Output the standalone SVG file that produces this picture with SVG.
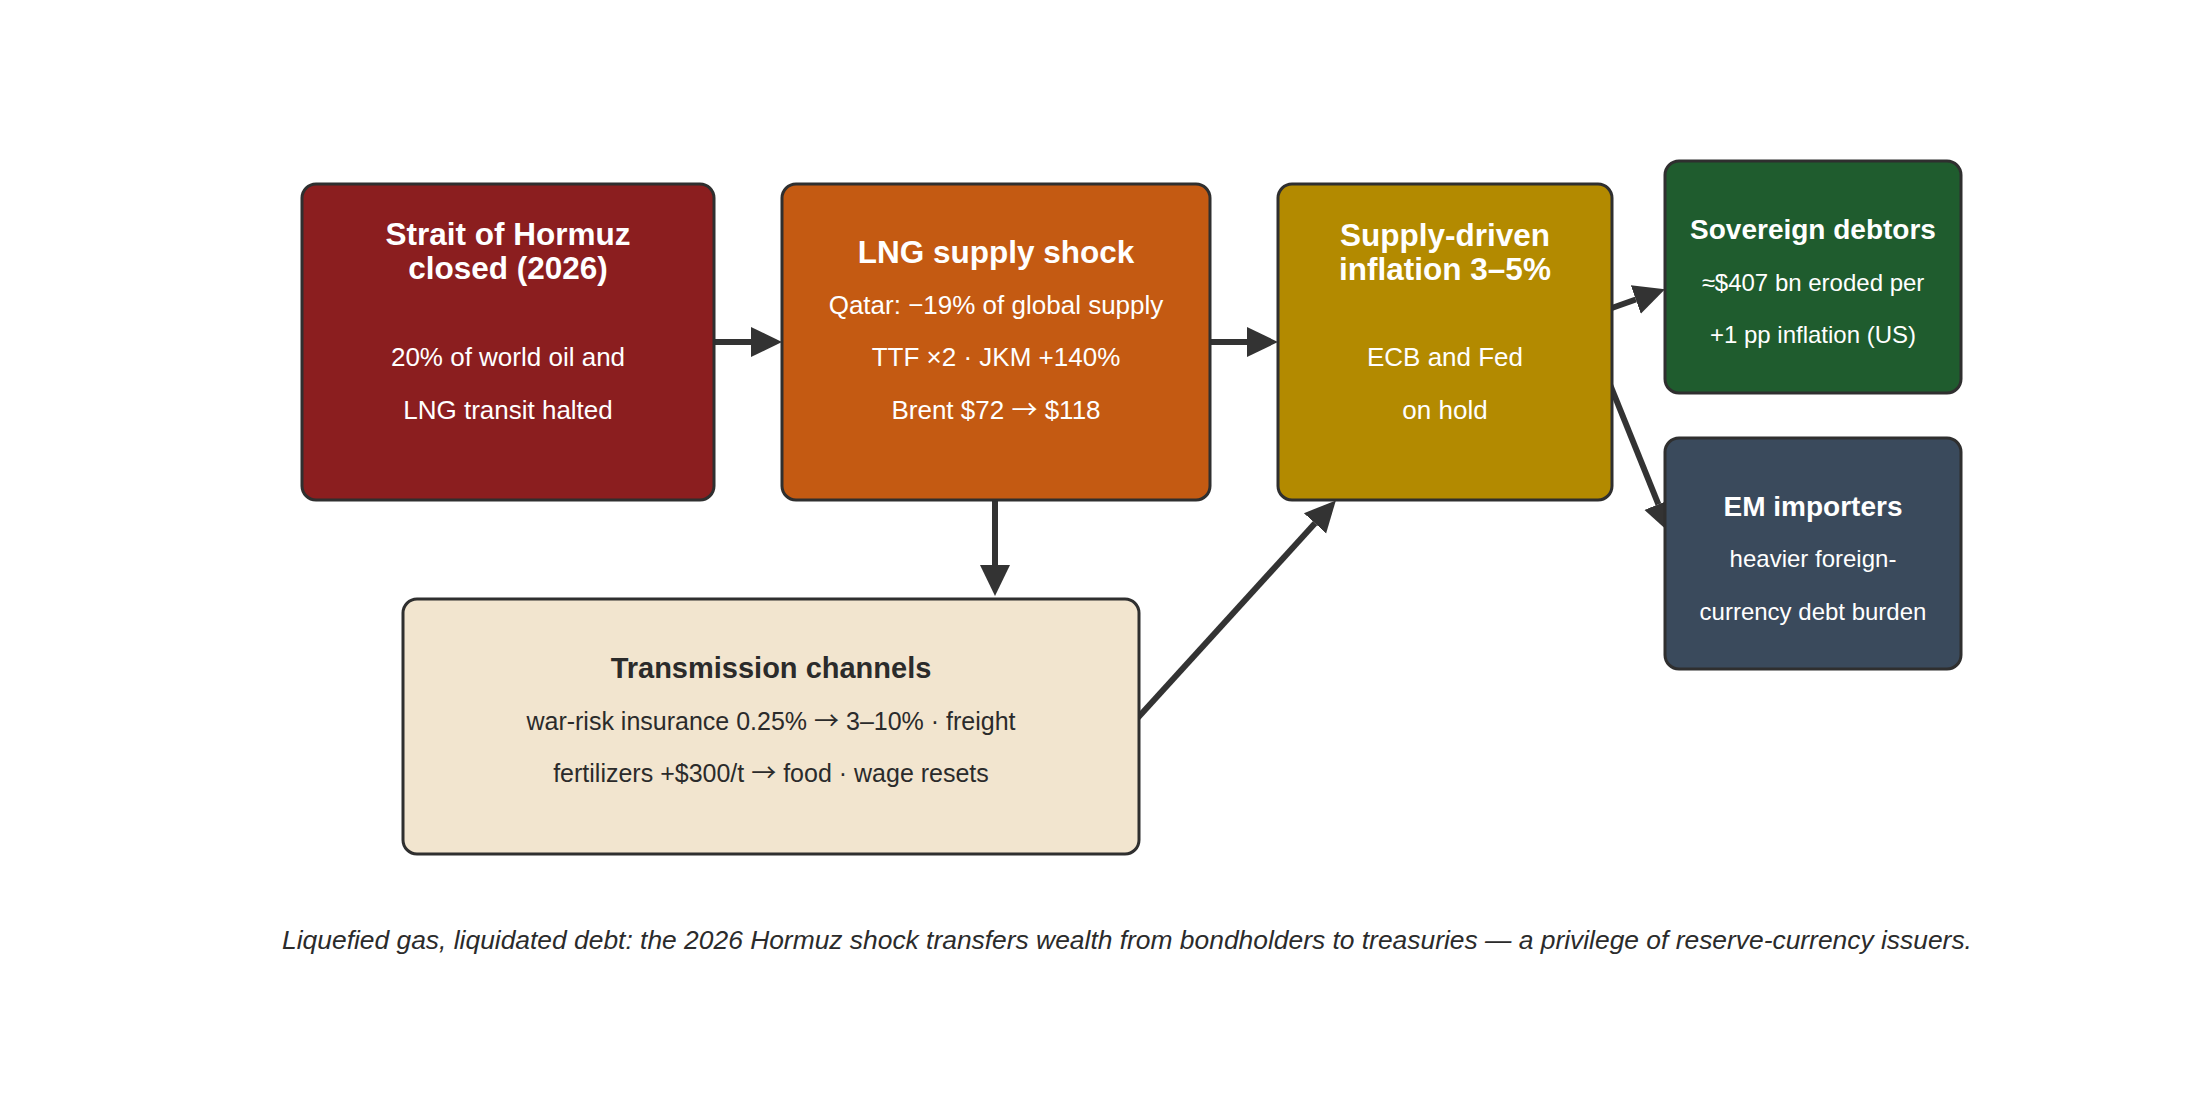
<svg xmlns="http://www.w3.org/2000/svg" width="2200" height="1120" viewBox="0 0 2200 1120">
<defs>
<style>
.box{stroke:#2f2f2f;stroke-width:3}
.t{font-family:"Liberation Sans",Arial,sans-serif;text-anchor:middle;fill:#ffffff}
.h{font-weight:bold;font-size:31.5px}
.hs{font-weight:bold;font-size:28px}
.b{font-size:26px}
.bs{font-size:24px}
.dark{fill:#2b2b2b}
.ar{font-family:"Noto Sans CJK SC",sans-serif}
.conn{stroke:#333333;stroke-width:6;fill:none;marker-end:url(#ah)}
.cap{font-family:"Liberation Sans",Arial,sans-serif;font-style:italic;font-size:26.4px;fill:#2b2b2b;text-anchor:middle}
</style>
<marker id="ah" markerUnits="userSpaceOnUse" markerWidth="34" markerHeight="34" viewBox="0 -16 34 32" refX="0" refY="0" orient="auto">
<path d="M0,-15 L31,0 L0,15 z" fill="#333333"/>
</marker>
</defs>
<rect width="2200" height="1120" fill="#ffffff"/>
<g id="connectors">
<path class="conn" d="M714,342 L751,342"/>
<path class="conn" d="M1207,342 L1247,342"/>
<path class="conn" d="M995,497 L995,565"/>
<path class="conn" d="M1134,722 L1315,523.3"/>
<path class="conn" d="M1609,309 L1635.8,299.5"/>
<path class="conn" d="M1607,377 L1658.4,504.3"/>
</g>
<g id="hormuz">
<rect class="box" x="302" y="184" width="412" height="316" rx="14" fill="#8b1e1f"/>
<text class="t h" x="508" y="245">Strait of Hormuz</text>
<text class="t h" x="508" y="279">closed (2026)</text>
<text class="t b" x="508" y="366">20% of world oil and</text>
<text class="t b" x="508" y="419">LNG transit halted</text>
</g>
<g id="lng">
<rect class="box" x="782" y="184" width="428" height="316" rx="14" fill="#c45a12"/>
<text class="t h" x="996" y="263">LNG supply shock</text>
<text class="t b" x="996" y="314">Qatar: −19% of global supply</text>
<text class="t b" x="996" y="366">TTF ×2 · JKM +140%</text>
<text class="t b" x="996" y="419">Brent $72 <tspan class="ar">→</tspan> $118</text>
</g>
<g id="inflation">
<rect class="box" x="1278" y="184" width="334" height="316" rx="14" fill="#b38a00"/>
<text class="t h" x="1445" y="246">Supply-driven</text>
<text class="t h" x="1445" y="280">inflation 3–5%</text>
<text class="t b" x="1445" y="366">ECB and Fed</text>
<text class="t b" x="1445" y="419">on hold</text>
</g>
<g id="sovereign">
<rect class="box" x="1665" y="161" width="296" height="232" rx="14" fill="#1f5c2e"/>
<text class="t hs" x="1813" y="239">Sovereign debtors</text>
<text class="t bs" x="1813" y="291">≈$407 bn eroded per</text>
<text class="t bs" x="1813" y="343">+1 pp inflation (US)</text>
</g>
<g id="em">
<rect class="box" x="1665" y="438" width="296" height="231" rx="14" fill="#3a4a5c"/>
<text class="t hs" x="1813" y="516">EM importers</text>
<text class="t bs" x="1813" y="567">heavier foreign-</text>
<text class="t bs" x="1813" y="620">currency debt burden</text>
</g>
<g id="transmission">
<rect class="box" x="403" y="599" width="736" height="255" rx="14" fill="#f2e5cf"/>
<text class="t dark" x="771" y="678" style="font-weight:bold;font-size:29px">Transmission channels</text>
<text class="t dark" x="771" y="730" style="font-size:25px">war-risk insurance 0.25% <tspan class="ar">→</tspan> 3–10% · freight</text>
<text class="t dark" x="771" y="782" style="font-size:25px">fertilizers +$300/t <tspan class="ar">→</tspan> food · wage resets</text>
</g>
<text class="cap" x="1127" y="949">Liquefied gas, liquidated debt: the 2026 Hormuz shock transfers wealth from bondholders to treasuries — a privilege of reserve-currency issuers.</text>
</svg>
